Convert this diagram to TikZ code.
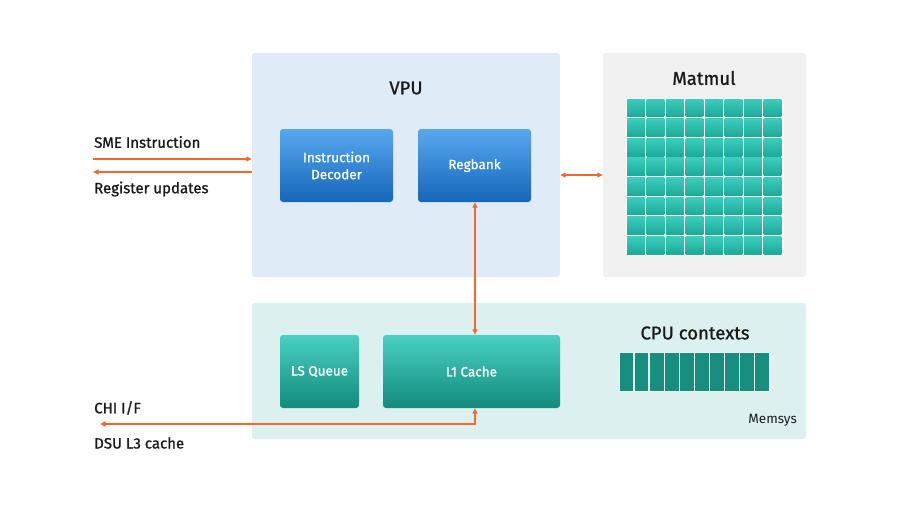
\documentclass[tikz,border=0pt]{standalone}
\usepackage{fontspec}
\setmainfont{Fira Sans}
\newfontfamily\medfont{Fira Sans}[FakeBold=1.0]
\usetikzlibrary{arrows.meta,calc}
\definecolor{vpubg}{HTML}{DFEBF6}
\definecolor{mmbg}{HTML}{F0F0F1}
\definecolor{memsbg}{HTML}{DCF1EF}
\definecolor{bluetop}{HTML}{58A8F0}
\definecolor{bluebot}{HTML}{1466B8}
\definecolor{tealtop}{HTML}{48D0C2}
\definecolor{tealbot}{HTML}{138A7C}
\definecolor{celltop}{HTML}{3CCDBD}
\definecolor{cellbot}{HTML}{1DAA98}
\definecolor{ctxcol}{HTML}{168F7E}
\definecolor{arr}{HTML}{EE6A32}
\definecolor{txt}{HTML}{1A1A1A}
\tikzset{
  container/.style={rectangle, rounded corners=3pt, inner sep=0pt, draw=none},
  bluebox/.style={rectangle, rounded corners=3pt, inner sep=0pt, top color=bluetop, bottom color=bluebot, text=white, align=center, font=\medfont\fontsize{13.5}{17}\selectfont},
  tealbox/.style={rectangle, rounded corners=3pt, inner sep=0pt, top color=tealtop, bottom color=tealbot, text=white, align=center, font=\medfont\fontsize{13.5}{17}\selectfont},
  title/.style={text=txt, font=\medfont\fontsize{18.5}{22}\selectfont, inner sep=0pt},
  sidelabel/.style={text=txt, font=\medfont\fontsize{15}{18}\selectfont, inner sep=0pt, anchor=west},
  link/.style={draw=arr, line width=1.2pt, -{Triangle[length=5.5pt,width=5pt]}},
  dlink/.style={draw=arr, line width=1.2pt, {Triangle[length=5.5pt,width=5pt]}-{Triangle[length=5.5pt,width=5pt]}},
  cell/.style={top color=celltop, bottom color=cellbot, draw=none},
}
\begin{document}
\begin{tikzpicture}[x=1pt,y=-1pt]
\useasboundingbox[fill=white] (0,0) rectangle (900,506);
% containers
\node[container, fill=vpubg, minimum width=308pt, minimum height=224pt] (vpu) at (406,165) {};
\node[container, fill=mmbg, minimum width=203pt, minimum height=224pt] (mm) at (704.5,165) {};
\node[container, fill=memsbg, minimum width=554pt, minimum height=136pt] (mem) at (529,371) {};
% titles
\node[title] (vputitle) at (406,88) {VPU};
\node[title] (mmtitle) at (704,78) {Matmul};
\node[title] (ctxtitle) at (695,333) {CPU contexts};
\node[text=txt, font=\fontsize{13.5}{16}\selectfont, inner sep=0pt, anchor=east] (memlabel) at (797,420) {Memsys};
% inner boxes
\node[bluebox, minimum width=113pt, minimum height=73pt] (dec) at (336.5,165.5) {Instruction\\Decoder};
\node[bluebox, minimum width=113pt, minimum height=73pt] (reg) at (474.5,165.5) {Regbank};
\node[tealbox, minimum width=79pt, minimum height=73pt] (lsq) at (319.5,371.5) {LS Queue};
\node[tealbox, minimum width=177pt, minimum height=73pt] (l1) at (471.5,371.5) {L1 Cache};
% matmul grid
\fill[white] (626,98) rectangle (783.5,256);
\foreach \i in {0,...,7}{
  \foreach \j in {0,...,7}{
    \fill[cell] ({627+\i*19.5},{99+\j*19.6}) rectangle +(17.8,17.8);
  }
}
% CPU context bars
\fill[white!60!memsbg] (619,352) rectangle (770,392);
\foreach \k in {0,...,9}{
  \fill[ctxcol] ({620+\k*15.05},353) rectangle +(13.4,38);
}
% side labels
\node[sidelabel] (sme) at (94,142) {SME Instruction};
\node[sidelabel] (regupd) at (94,189) {Register updates};
\node[sidelabel] (chi) at (94,408) {CHI I/F};
\node[sidelabel] (dsu) at (94,443) {DSU L3 cache};
% connector end points
\coordinate (smeL) at (93,159);
\coordinate (regL) at (93,172);
\coordinate (mmy) at (0,175);
\coordinate (chiL) at (100,424);
\coordinate (l1x) at (475,408);
% connectors
\draw[link] (smeL) -- (vpu.west |- smeL);
\draw[link] (vpu.west |- regL) -- (regL);
\draw[dlink] (vpu.east |- mmy) -- (mm.west |- mmy);
\draw[dlink] (reg.south -| l1x) -- (l1.north -| l1x);
\draw[dlink] (l1.south -| l1x) |- (chiL);
\end{tikzpicture}
\end{document}
